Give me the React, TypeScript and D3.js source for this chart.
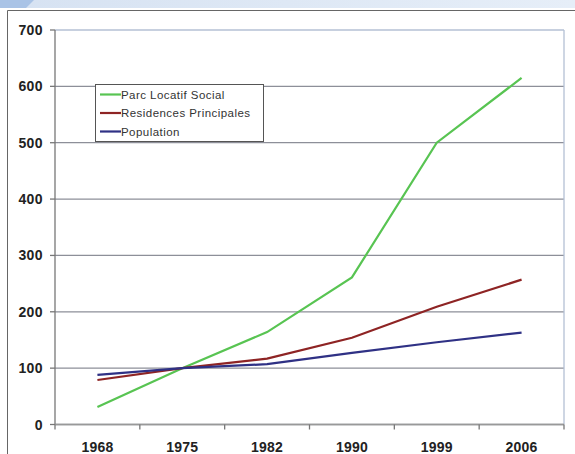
import React from 'react'
import * as d3 from 'd3'

const years = ['1968', '1975', '1982', '1990', '1999', '2006']
const parcLocatif = [31, 100, 164, 261, 500, 615]
const residences = [79, 100, 117, 154, 209, 257]
const population = [88, 100, 107, 127, 146, 163]
const yTicks = [0, 100, 200, 300, 400, 500, 600, 700]

const series = [
  { name: 'Parc Locatif Social', values: parcLocatif, color: '#58c452' },
  { name: 'Residences Principales', values: residences, color: '#8e2424' },
  { name: 'Population', values: population, color: '#2f3185' },
]

const W = 575
const H = 454
const left = 55
const right = 564
const top = 30
const bottom = 424.5

const App = () => {
  const x = d3.scaleBand().domain(years).range([left, right]).padding(0)
  const y = d3.scaleLinear().domain([0, 700]).range([bottom, top])
  const cx = (d: string) => (x(d) as number) + x.bandwidth() / 2

  const line = d3
    .line<number>()
    .x((_, i) => cx(years[i]))
    .y((d) => y(d))

  const font = '"Liberation Sans", Arial, sans-serif'

  return (
    <svg
      width={W}
      height={H}
      style={{ position: 'absolute', left: 0, top: 0, background: '#fff' }}
      fontFamily={font}
    >
      <defs>
        <linearGradient id="banner" x1="0" x2="1" y1="0" y2="0">
          <stop offset="0" stopColor="#d6e2f2" />
          <stop offset="1" stopColor="#e6eef8" />
        </linearGradient>
      </defs>
      <rect x={0} y={0} width={W} height={8} fill="url(#banner)" />
      <path d="M0,0 L34,0 L26,8 L0,8 Z" fill="#a9c3e6" />

      {/* outer frame */}
      <path d={`M7.5,${H} L7.5,10.5 L${W},10.5`} fill="none" stroke="#666" strokeWidth={1} />

      {/* gridlines */}
      {yTicks.map((t) => (
        <line
          key={t}
          x1={left}
          x2={right}
          y1={y(t)}
          y2={y(t)}
          stroke={t === 700 ? '#b4c0d4' : '#8d8f99'}
          strokeWidth={1.3}
        />
      ))}
      <line x1={right} x2={right} y1={top} y2={bottom} stroke="#b4c0d4" strokeWidth={1.3} />

      {/* y axis */}
      <line x1={left} x2={left} y1={top} y2={bottom} stroke="#777" strokeWidth={1.3} />
      {yTicks.map((t) => (
        <g key={t}>
          <line x1={left - 5} x2={left} y1={y(t)} y2={y(t)} stroke="#777" strokeWidth={1.3} />
          <text
            x={43}
            y={y(t)}
            dy="0.36em"
            textAnchor="end"
            fontSize={14}
            fontWeight="bold"
            letterSpacing={0.4}
            fill="#222"
          >
            {t}
          </text>
        </g>
      ))}

      {/* x axis */}
      <line x1={left} x2={right} y1={bottom} y2={bottom} stroke="#999" strokeWidth={1.3} />
      {years.map((yr) => (
        <line
          key={'t' + yr}
          x1={x(yr) as number}
          x2={x(yr) as number}
          y1={bottom}
          y2={bottom + 5}
          stroke="#777"
          strokeWidth={1.3}
        />
      ))}
      <line x1={right} x2={right} y1={bottom} y2={bottom + 5} stroke="#777" strokeWidth={1.3} />
      {years.map((yr) => (
        <text
          key={yr}
          x={cx(yr)}
          y={452}
          textAnchor="middle"
          fontSize={14}
          fontWeight="bold"
          letterSpacing={0.2}
          fill="#222"
        >
          {yr}
        </text>
      ))}

      {/* lines */}
      {series.map((s) => (
        <path
          key={s.name}
          d={line(s.values) as string}
          fill="none"
          stroke={s.color}
          strokeWidth={2.2}
        />
      ))}

      {/* legend */}
      <rect x={95.5} y={84.5} width={168} height={57} fill="#fff" stroke="#555" strokeWidth={1} />
      {series.map((s, i) => (
        <g key={'l' + s.name} transform={`translate(100, ${94.5 + i * 18.5})`}>
          <line x1={0} x2={21} y1={0} y2={0} stroke={s.color} strokeWidth={2.2} />
          <text x={21} y={0} dy="0.36em" fontSize={11.5} letterSpacing={0.45} fill="#333">
            {s.name}
          </text>
        </g>
      ))}
    </svg>
  )
}

export default App
